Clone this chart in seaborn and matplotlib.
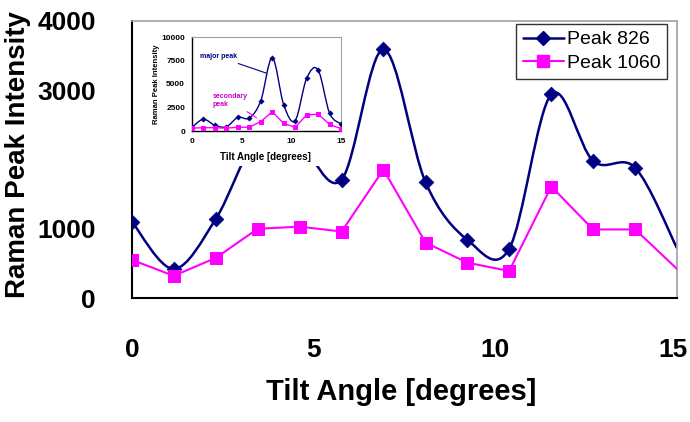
import numpy as np
import pandas as pd
import matplotlib
matplotlib.use("Agg")
import matplotlib.pyplot as plt
import matplotlib.transforms as mtransforms
import seaborn as sns
from matplotlib.path import Path
from matplotlib.patches import PathPatch
from matplotlib.lines import Line2D

# tilt angles of the 14 measurements
angles = [0, 1.15, 2.31, 3.46, 4.62, 5.77, 6.92, 8.08, 9.23, 10.38, 11.54, 12.69, 13.85, 15]

# main chart
peak_826 = [1100, 420, 1145, 2300, 2200, 1710, 3590, 1670, 840, 710, 2940, 1980, 1880, 720]
peak_1060 = [550, 320, 580, 1000, 1030, 960, 1855, 800, 510, 390, 1610, 990, 990, 420]

# inset chart
inset_826 = [400, 1250, 600, 450, 1450, 1380, 3200, 7800, 2800, 1100, 5600, 6500, 1900, 750]
inset_1060 = [300, 350, 350, 300, 400, 400, 1000, 2050, 800, 400, 1700, 1800, 700, 250]

x_ticks = [0, 5, 10, 15]
y_ticks = [0, 1000, 3000, 4000]
inset_y_ticks = [0, 2500, 5000, 7500, 10000]

NAVY = "#000080"
MAGENTA = "#ff00ff"
BOLD = ["Liberation Sans", "DejaVu Sans"]

sns.set_style("white")
plt.rcParams["font.family"] = ["Liberation Sans", "DejaVu Sans"]
plt.rcParams["text.color"] = "black"
plt.rcParams["xtick.color"] = "black"
plt.rcParams["ytick.color"] = "black"


def smooth_path(x, y):
    # Excel-like smoothed line: Catmull-Rom segments as cubic Beziers
    pts = np.column_stack([x, y]).astype(float)
    n = len(pts)
    verts = [pts[0]]
    codes = [Path.MOVETO]
    for i in range(n - 1):
        p0 = pts[max(i - 1, 0)]
        p1 = pts[i]
        p2 = pts[i + 1]
        p3 = pts[min(i + 2, n - 1)]
        verts += [p1 + (p2 - p0) / 6, p2 - (p3 - p1) / 6, p2]
        codes += [Path.CURVE4] * 3
    return Path(verts, codes)


def style_spines(a, lw):
    for s in ["left", "bottom"]:
        a.spines[s].set_color("black")
        a.spines[s].set_linewidth(lw)
    for s in ["top", "right"]:
        a.spines[s].set_color("#a0a0a0")
        a.spines[s].set_linewidth(lw * 0.8)


df = pd.DataFrame({"angle": angles, "p826": peak_826, "p1060": peak_1060,
                   "i826": inset_826, "i1060": inset_1060})
shown = df.iloc[:-1]  # the marker at the right edge is cut off in the original

fig = plt.figure(figsize=(6.9, 4.22), dpi=100)

# ---- main axes ----
ax = fig.add_axes([132 / 690, 1 - 298 / 422, 545 / 690, 277 / 422])
ax.set_zorder(0)
ax.add_patch(PathPatch(smooth_path(angles, peak_826), facecolor="none",
                       edgecolor=NAVY, lw=1.8, zorder=2))
sns.scatterplot(data=shown, x="angle", y="p826", ax=ax, marker="D", s=55,
                color=NAVY, edgecolor=NAVY, zorder=3, legend=False)
sns.lineplot(data=df, x="angle", y="p1060", ax=ax, color=MAGENTA, lw=1.5,
             zorder=3, legend=False)
sns.scatterplot(data=shown, x="angle", y="p1060", ax=ax, marker="s", s=85,
                color=MAGENTA, edgecolor=MAGENTA, zorder=3, legend=False)

ax.set_xlim(0, 15)
ax.set_ylim(0, 4000)
ax.set_xticks(x_ticks)
ax.set_xticks([2.5, 7.5, 12.5], minor=True)
ax.set_yticks(y_ticks)
ax.set_xticklabels([str(t) for t in x_ticks], fontsize=19, fontweight="bold", family=BOLD)
ax.set_yticklabels([str(t) for t in y_ticks], fontsize=19, fontweight="bold", family=BOLD)
ax.tick_params(axis="x", which="both", direction="in", length=6, width=1.2, pad=29)
ax.tick_params(axis="y", length=0, pad=26)
ax.set_xlabel("")
ax.set_ylabel("")
style_spines(ax, 1.5)

# nudge the last x label so it stays inside the picture
last = ax.get_xticklabels()[-1]
last.set_transform(last.get_transform() +
                   mtransforms.ScaledTranslation(-4 / 100, 0, fig.dpi_scale_trans))

handles = [
    Line2D([], [], color=NAVY, lw=1.8, marker="D", markersize=7),
    Line2D([], [], color=MAGENTA, lw=1.5, marker="s", markersize=9),
]
leg = ax.legend(handles, ["Peak 826", "Peak 1060"], loc="upper left",
                bbox_to_anchor=(0.7046, 0.989), borderaxespad=0, fontsize=14,
                frameon=True, fancybox=False, handlelength=2.1,
                handletextpad=0.15, borderpad=0.35, labelspacing=0.3)
leg.get_frame().set_edgecolor("black")
leg.get_frame().set_linewidth(1.0)

fig.text(18 / 690, 1 - 155 / 422, "Raman Peak Intensity", rotation=90,
         ha="center", va="center", fontsize=20, fontweight="bold", family=BOLD)
fig.text(401 / 690, 1 - 392 / 422, "Tilt Angle [degrees]", ha="center",
         va="center", fontsize=21, fontweight="bold", family=BOLD)

# ---- inset ----
# white block behind the inset and its labels, hiding the main curves
bg = fig.add_axes([150 / 690, 1 - 166 / 422, 196 / 690, 138 / 422])
bg.set_zorder(2)
bg.set_facecolor("white")
bg.set_xticks([])
bg.set_yticks([])
for s in bg.spines.values():
    s.set_visible(False)

ins = fig.add_axes([192 / 690, 1 - 131 / 422, 149 / 690, 94 / 422])
ins.set_zorder(3)
ins.add_patch(PathPatch(smooth_path(angles, inset_826), facecolor="none",
                        edgecolor=NAVY, lw=1.0, zorder=2))
sns.scatterplot(data=df, x="angle", y="i826", ax=ins, marker="D", s=8,
                color=NAVY, edgecolor=NAVY, zorder=3, legend=False)
sns.lineplot(data=df, x="angle", y="i1060", ax=ins, color=MAGENTA, lw=1.0,
             marker="s", markersize=3.2, markeredgecolor=MAGENTA, zorder=3,
             legend=False)
ins.set_xlim(0, 15)
ins.set_ylim(0, 10000)
ins.set_xticks(x_ticks)
ins.set_yticks(inset_y_ticks)
ins.set_xticklabels([str(t) for t in x_ticks], fontsize=6, fontweight="bold", family=BOLD)
ins.set_yticklabels([str(t) for t in inset_y_ticks], fontsize=6, fontweight="bold", family=BOLD)
ins.tick_params(axis="both", direction="in", length=2.5, width=0.8, pad=5)
ins.set_xlabel("")
ins.set_ylabel("")
style_spines(ins, 1.0)

ins.annotate("major peak", xy=(7.5, 6150), xytext=(0.8, 7900),
             fontsize=5, fontweight="bold", color=NAVY, va="center",
             arrowprops=dict(arrowstyle="-", color=NAVY, lw=0.8,
                             shrinkA=0, shrinkB=0))
ins.annotate("secondary\npeak", xy=(6.5, 1400), xytext=(2.1, 3200),
             fontsize=5, fontweight="bold", color="#cc00cc", va="center",
             arrowprops=dict(arrowstyle="-", color=MAGENTA, lw=0.8,
                             shrinkA=0, shrinkB=0))

fig.text(265 / 690, 1 - 157 / 422, "Tilt Angle [degrees]", ha="center",
         va="center", fontsize=7, fontweight="bold", family=BOLD, zorder=4)
fig.text(157 / 690, 1 - 84 / 422, "Raman Peak Intensity", rotation=90,
         ha="center", va="center", fontsize=5.5, fontweight="bold", family=BOLD,
         zorder=4)

fig.savefig("out.png", dpi=100)
plt.close(fig)
